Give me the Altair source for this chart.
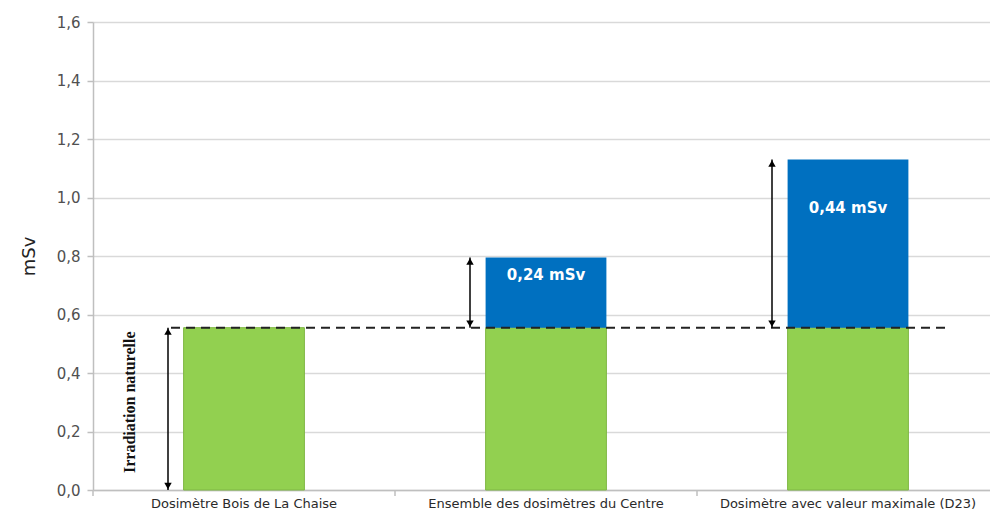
import altair as alt
import pandas as pd

categories = [
    "Dosimètre Bois de La Chaise",
    "Ensemble des dosimètres du Centre",
    "Dosimètre avec valeur maximale (D23)",
]
natural = [0.555, 0.555, 0.555]
added = [0.0, 0.24, 0.575]
added_labels = ["", "0,24 mSv", "0,44 mSv"]
label_pos = [None, 0.735, 0.963]
arrow_low = [0.0, 0.555, 0.555]
arrow_high = [0.555, 0.795, 1.13]
baseline = 0.555
y_ticks = [0.0, 0.2, 0.4, 0.6, 0.8, 1.0, 1.2, 1.4, 1.6]

df = pd.DataFrame({
    "cat": categories,
    "natural": natural,
    "total": [n + a for n, a in zip(natural, added)],
    "label": added_labels,
    "lpos": label_pos,
    "lo": arrow_low,
    "hi": arrow_high,
})

x_scale = alt.Scale(domain=categories, paddingInner=0.6, paddingOuter=0.3, range=[0, 906])
y_scale = alt.Scale(domain=[0, 1.6], nice=False)

X = alt.X("cat:N", scale=x_scale, sort=categories, title=None,
          axis=alt.Axis(labelAngle=0, labelFontSize=13, labelColor="#2a2a2a",
                        labelFont="DejaVu Sans, sans-serif", labelLimit=0,
                        labelPadding=7,
                        domainColor="#bfbfbf", domainWidth=1.5, ticks=False, grid=False))

base = alt.Chart(df)

green = base.mark_bar(color="#92D050", stroke="#7fb744", strokeWidth=1).encode(
    x=X,
    y=alt.Y("natural:Q", scale=y_scale, title="mSv",
            axis=alt.Axis(values=y_ticks,
                          labelExpr="replace(format(datum.value, '.1f'), '.', ',')",
                          labelFont="DejaVu Sans, sans-serif",
                          labelFontSize=15, labelColor="#505050", labelPadding=7,
                          titleFont="DejaVu Sans, sans-serif",
                          titleFontSize=18, titleColor="#222222", titleFontWeight="normal",
                          titlePadding=18, tickSize=6, tickColor="#bfbfbf", tickWidth=1.5,
                          domainColor="#bfbfbf", domainWidth=1.5,
                          gridColor="#d9d9d9", gridWidth=1.5)),
    y2=alt.value(468),
)

blue = base.transform_filter("datum.total > datum.natural").mark_bar(color="#0070C0").encode(
    x=alt.X("cat:N", scale=x_scale, sort=categories),
    y=alt.Y("total:Q", scale=y_scale),
    y2="natural:Q",
)

labels = base.transform_filter("datum.label != ''").mark_text(
    color="white", fontSize=15, fontWeight="bold", font="DejaVu Sans, sans-serif"
).encode(
    x=alt.X("cat:N", scale=x_scale, sort=categories),
    y=alt.Y("lpos:Q", scale=y_scale),
    text="label:N",
)

xticks = base.mark_rule(color="#bfbfbf", strokeWidth=1.5, xOffset=-151).encode(
    x=alt.X("cat:N", scale=x_scale, sort=categories),
    y=alt.value(468), y2=alt.value(474),
)

dash_df = pd.DataFrame({"start": [categories[0]], "end": [categories[2]], "v": [baseline]})
dash = alt.Chart(dash_df).mark_rule(
    color="#222222", strokeWidth=2, strokeDash=[9, 6], xOffset=-73, x2Offset=97
).encode(
    x=alt.X("start:N", scale=x_scale, sort=categories),
    x2="end:N",
    y=alt.Y("v:Q", scale=y_scale),
)

arrow_line = base.mark_rule(color="black", strokeWidth=1.5, xOffset=-76).encode(
    x=alt.X("cat:N", scale=x_scale, sort=categories),
    y=alt.Y("lo:Q", scale=y_scale),
    y2="hi:Q",
)
arrow_top = base.mark_point(shape="triangle-up", filled=True, color="black", size=55,
                            opacity=1, xOffset=-76, yOffset=4).encode(
    x=alt.X("cat:N", scale=x_scale, sort=categories),
    y=alt.Y("hi:Q", scale=y_scale),
)
arrow_bot = base.mark_point(shape="triangle-down", filled=True, color="black", size=55,
                            opacity=1, xOffset=-76, yOffset=-4).encode(
    x=alt.X("cat:N", scale=x_scale, sort=categories),
    y=alt.Y("lo:Q", scale=y_scale),
)

note_df = pd.DataFrame({"cat": [categories[0]], "v": [0.30], "t": ["Irradiation naturelle"]})
note = alt.Chart(note_df).mark_text(
    angle=270, fontSize=16, fontWeight="bold", color="#111111",
    font="Liberation Serif, DejaVu Serif, serif", xOffset=-114
).encode(
    x=alt.X("cat:N", scale=x_scale, sort=categories),
    y=alt.Y("v:Q", scale=y_scale),
    text="t:N",
)

chart = alt.layer(green, blue, labels, xticks, dash, arrow_line, arrow_top, arrow_bot, note).properties(
    width=897, height=468,
    autosize=alt.AutoSizeParams(type="none"),
    padding={"left": 93, "top": 22, "right": 0, "bottom": 24},
).configure_view(stroke=None)

chart.save("out.html", embed_options={"renderer": "svg", "actions": False})
